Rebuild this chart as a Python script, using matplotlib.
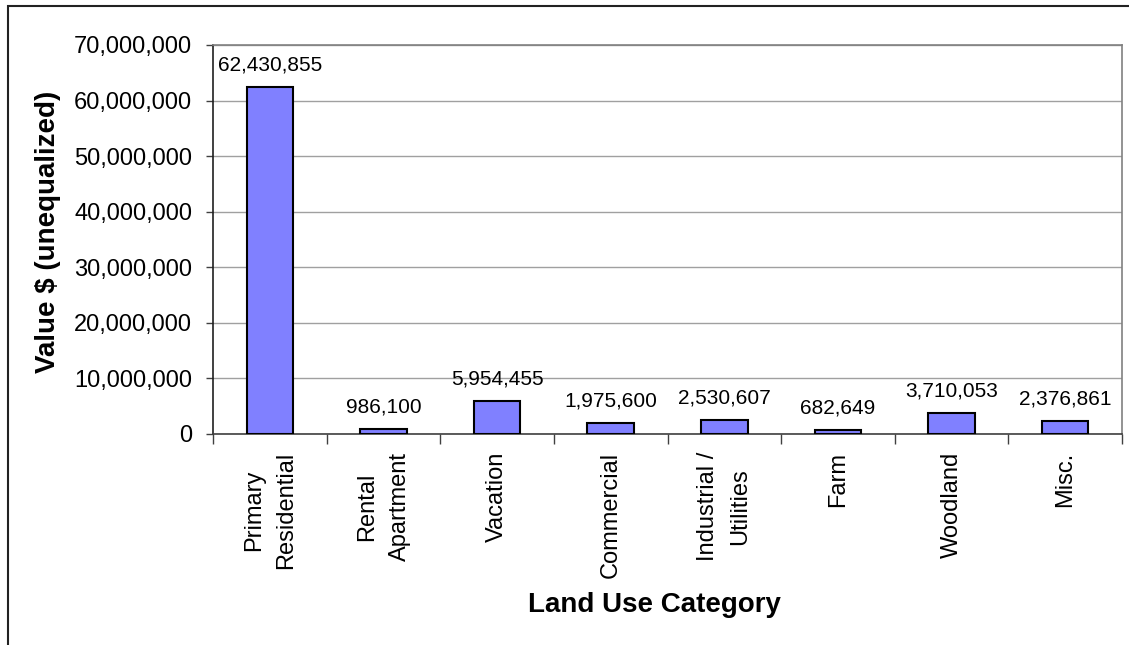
import matplotlib
matplotlib.use('Agg')
import matplotlib.pyplot as plt
import matplotlib.patches as mpatches
from matplotlib.ticker import FuncFormatter, MultipleLocator
import numpy as np

plt.rcParams['font.family'] = ['Liberation Sans', 'DejaVu Sans']

# 各类用地的价值
categories = ['Primary\nResidential', 'Rental\nApartment', 'Vacation', 'Commercial',
              'Industrial /\nUtilities', 'Farm', 'Woodland', 'Misc.']
values = [62430855, 986100, 5954455, 1975600, 2530607, 682649, 3710053, 2376861]

fig = plt.figure(figsize=(11.29, 6.45), dpi=100)
ax = fig.add_axes([213 / 1129, 1 - 434 / 645, 909 / 1129, 389 / 645])

# 外框
fig.patches.append(mpatches.Rectangle((7.5 / 1129, -0.05), 1.1, 1 - 5.5 / 645 + 0.05,
                                      transform=fig.transFigure, fill=False,
                                      edgecolor='#222222', linewidth=1.5))

x = np.arange(len(categories))
ax.bar(x, values, width=0.41, color='#8080FF', edgecolor='black', linewidth=1.5, zorder=3)

# 柱顶数值
for xi, v in zip(x, values):
    ax.annotate(f'{v:,}', xy=(xi, v), xytext=(0, 9), textcoords='offset points',
                ha='center', va='bottom', fontsize=15)

ax.set_xlim(-0.5, len(categories) - 0.5)
ax.set_ylim(0, 70000000)
ax.yaxis.set_major_locator(MultipleLocator(10000000))
ax.yaxis.set_major_formatter(FuncFormatter(lambda v, p: f'{int(v):,}'))
ax.grid(axis='y', color='#A0A0A0', linewidth=1, zorder=0)

# 分类标签在中间，刻度线在分界处
ax.set_xticks(x)
ax.set_xticklabels(categories, rotation=90, fontsize=17, ha='center', va='top',
                   multialignment='center', linespacing=1.6)
ax.set_xticks(np.arange(-0.5, len(categories)), minor=True)
ax.tick_params(axis='x', which='major', length=0, pad=13)
ax.tick_params(axis='x', which='minor', length=7, width=1, color='#404040')
ax.tick_params(axis='y', length=5, width=1, pad=10, labelsize=17, color='#404040')

for side in ('top', 'right'):
    ax.spines[side].set_color('#808080')
    ax.spines[side].set_linewidth(1.2)
ax.spines['left'].set_color('#202020')
ax.spines['bottom'].set_color('#404040')
ax.spines['left'].set_linewidth(1.2)
ax.spines['bottom'].set_linewidth(1.2)

ax.set_ylabel('Value $ (unequalized)', fontsize=20, fontweight='bold', va='center')
ax.yaxis.set_label_coords(-0.1815, 0.519)
ax.set_xlabel('Land Use Category', fontsize=20, fontweight='bold', va='center')
ax.xaxis.set_label_coords(0.486, -0.44)

fig.savefig('out.png', dpi=100)
